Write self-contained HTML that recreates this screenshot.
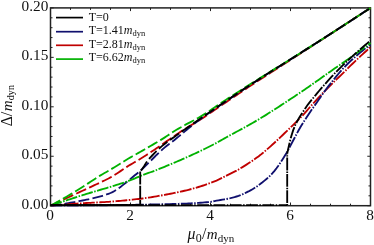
<!DOCTYPE html>
<html><head><meta charset="utf-8"><style>
html,body{margin:0;padding:0;background:#fff;}
svg{display:block;font-family:"Liberation Serif",serif;fill:#111;}
</style></head><body>
<svg width="374" height="245" viewBox="0 0 374 245">
<rect width="374" height="245" fill="#fff"/>
<defs><filter id="nf" x="0" y="0" width="374" height="245" filterUnits="userSpaceOnUse" color-interpolation-filters="sRGB"><feOffset dx="0" dy="0"/></filter><clipPath id="c"><rect x="49.50" y="6.90" width="322.00" height="199.80"/></clipPath></defs>
<rect x="50.50" y="7.90" width="320.00" height="197.80" fill="none" stroke="#222" stroke-width="1.5"/>
<path d="M50.50 205.70 v-3.20 M50.50 7.90 v3.20 M70.50 205.70 v-2.00 M70.50 7.90 v2.00 M90.50 205.70 v-2.00 M90.50 7.90 v2.00 M110.50 205.70 v-2.00 M110.50 7.90 v2.00 M130.50 205.70 v-3.20 M130.50 7.90 v3.20 M150.50 205.70 v-2.00 M150.50 7.90 v2.00 M170.50 205.70 v-2.00 M170.50 7.90 v2.00 M190.50 205.70 v-2.00 M190.50 7.90 v2.00 M210.50 205.70 v-3.20 M210.50 7.90 v3.20 M230.50 205.70 v-2.00 M230.50 7.90 v2.00 M250.50 205.70 v-2.00 M250.50 7.90 v2.00 M270.50 205.70 v-2.00 M270.50 7.90 v2.00 M290.50 205.70 v-3.20 M290.50 7.90 v3.20 M310.50 205.70 v-2.00 M310.50 7.90 v2.00 M330.50 205.70 v-2.00 M330.50 7.90 v2.00 M350.50 205.70 v-2.00 M350.50 7.90 v2.00 M370.50 205.70 v-3.20 M370.50 7.90 v3.20 M50.50 205.70 h3.20 M370.50 205.70 h-3.20 M50.50 195.81 h2.00 M370.50 195.81 h-2.00 M50.50 185.92 h2.00 M370.50 185.92 h-2.00 M50.50 176.03 h2.00 M370.50 176.03 h-2.00 M50.50 166.14 h2.00 M370.50 166.14 h-2.00 M50.50 156.25 h3.20 M370.50 156.25 h-3.20 M50.50 146.36 h2.00 M370.50 146.36 h-2.00 M50.50 136.47 h2.00 M370.50 136.47 h-2.00 M50.50 126.58 h2.00 M370.50 126.58 h-2.00 M50.50 116.69 h2.00 M370.50 116.69 h-2.00 M50.50 106.80 h3.20 M370.50 106.80 h-3.20 M50.50 96.91 h2.00 M370.50 96.91 h-2.00 M50.50 87.02 h2.00 M370.50 87.02 h-2.00 M50.50 77.13 h2.00 M370.50 77.13 h-2.00 M50.50 67.24 h2.00 M370.50 67.24 h-2.00 M50.50 57.35 h3.20 M370.50 57.35 h-3.20 M50.50 47.46 h2.00 M370.50 47.46 h-2.00 M50.50 37.57 h2.00 M370.50 37.57 h-2.00 M50.50 27.68 h2.00 M370.50 27.68 h-2.00 M50.50 17.79 h2.00 M370.50 17.79 h-2.00 M50.50 7.90 h3.20 M370.50 7.90 h-3.20" stroke="#222" stroke-width="1" fill="none"/>
<g clip-path="url(#c)">
<path d="M50.50 205.70 L52.50 204.76 L54.50 203.82 L56.50 202.89 L58.50 201.95 L60.50 201.01 L62.50 200.08 L64.50 199.14 L66.50 198.20 L68.50 197.27 L70.50 196.33 L72.50 195.40 L74.50 194.47 L76.50 193.53 L78.50 192.60 L80.50 191.67 L82.50 190.74 L84.50 189.81 L86.50 188.89 L88.50 187.97 L90.50 187.05 L92.50 186.12 L94.50 185.20 L96.50 184.26 L98.50 183.31 L100.50 182.36 L102.50 181.42 L104.50 180.47 L106.50 179.51 L108.50 178.50 L110.50 177.42 L112.50 176.27 L114.50 175.04 L116.50 173.77 L118.50 172.45 L120.50 171.11 L122.50 169.76 L124.50 168.42 L126.50 167.11 L128.50 165.83 L130.50 164.60 L132.50 163.43 L134.50 162.28 L136.50 161.15 L138.50 159.98 L140.50 158.77 L142.50 157.53 L144.50 156.26 L146.50 154.97 L148.50 153.67 L150.50 152.35 L152.50 151.01 L154.50 149.67 L156.50 148.32 L158.50 146.96 L160.50 145.57 L162.50 144.15 L164.50 142.75 L166.50 141.37 L168.50 140.00 L170.50 138.64 L172.50 137.29 L174.50 135.94 L176.50 134.58 L178.50 133.22 L180.50 131.86 L182.50 130.52 L184.50 129.22 L186.50 127.97 L188.50 126.76 L190.50 125.57 L192.50 124.37 L194.50 123.17 L196.50 121.96 L198.50 120.74 L200.50 119.48 L202.50 118.19 L204.50 116.88 L206.50 115.55 L208.50 114.20 L210.50 112.83 L212.50 111.46 L214.50 110.09 L216.50 108.71 L218.50 107.33 L220.50 105.95 L222.50 104.58 L224.50 103.22 L226.50 101.87 L228.50 100.52 L230.50 99.17 L232.50 97.82 L234.50 96.47 L236.50 95.12 L238.50 93.77 L240.50 92.43 L242.50 91.09 L244.50 89.75 L246.50 88.42 L248.50 87.09 L250.50 85.77 L252.50 84.46 L254.50 83.14 L256.50 81.84 L258.50 80.54 L260.50 79.24 L262.50 77.94 L264.50 76.65 L266.50 75.36 L268.50 74.08 L270.50 72.79 L272.50 71.51 L274.50 70.22 L276.50 68.94 L278.50 67.65 L280.50 66.37 L282.50 65.08 L284.50 63.80 L286.50 62.51 L288.50 61.22 L290.50 59.93 L292.50 58.63 L294.50 57.34 L296.50 56.04 L298.50 54.75 L300.50 53.46 L302.50 52.16 L304.50 50.87 L306.50 49.58 L308.50 48.28 L310.50 46.99 L312.50 45.69 L314.50 44.39 L316.50 43.10 L318.50 41.80 L320.50 40.50 L322.50 39.20 L324.50 37.90 L326.50 36.60 L328.50 35.30 L330.50 34.00 L332.50 32.70 L334.50 31.40 L336.50 30.10 L338.50 28.79 L340.50 27.49 L342.50 26.19 L344.50 24.88 L346.50 23.58 L348.50 22.28 L350.50 20.97 L352.50 19.67 L354.50 18.36 L356.50 17.06 L358.50 15.75 L360.50 14.44 L362.50 13.13 L364.50 11.83 L366.50 10.52 L368.50 9.21 L370.50 7.90" fill="none" stroke="#c00000" stroke-width="1.85" stroke-dasharray="10.9 3.3"/>
<path d="M50.50 205.70 L52.50 205.47 L54.50 205.23 L56.50 204.97 L58.50 204.70 L60.50 204.41 L62.50 204.11 L64.50 203.80 L66.50 203.47 L68.50 203.13 L70.50 202.78 L72.50 202.42 L74.50 202.06 L76.50 201.68 L78.50 201.29 L80.50 200.90 L82.50 200.51 L84.50 200.11 L86.50 199.70 L88.50 199.29 L90.50 198.86 L92.50 198.41 L94.50 197.94 L96.50 197.45 L98.50 196.93 L100.50 196.37 L102.50 195.78 L104.50 195.16 L106.50 194.49 L108.50 193.77 L110.50 193.00 L112.50 192.08 L114.50 190.98 L116.50 189.74 L118.50 188.37 L120.50 186.91 L122.50 185.37 L124.50 183.79 L126.50 182.18 L128.50 180.58 L130.50 179.00 L132.50 177.28 L134.50 175.57 L136.50 173.99 L138.50 172.40 L140.50 170.67 L142.50 168.76 L144.50 166.78 L146.50 164.81 L148.50 162.88 L150.50 160.96 L152.50 159.01 L154.50 156.98 L156.50 154.97 L158.50 153.05 L160.50 151.18 L162.50 149.36 L164.50 147.62 L166.50 145.98 L168.50 144.43 L170.50 142.93 L172.50 141.43 L174.50 139.90 L176.50 138.29 L178.50 136.63 L180.50 134.95 L182.50 133.26 L184.50 131.61 L186.50 129.98 L188.50 128.35 L190.50 126.73 L192.50 125.12 L194.50 123.53 L196.50 121.96 L198.50 120.43 L200.50 118.93 L202.50 117.46 L204.50 116.02 L206.50 114.60 L208.50 113.20 L210.50 111.82 L212.50 110.45 L214.50 109.09 L216.50 107.73 L218.50 106.38 L220.50 105.04 L222.50 103.68 L224.50 102.33 L226.50 100.96 L228.50 99.60 L230.50 98.24 L232.50 96.89 L234.50 95.53 L236.50 94.18 L238.50 92.84 L240.50 91.50 L242.50 90.16 L244.50 88.83 L246.50 87.51 L248.50 86.19 L250.50 84.87 L252.50 83.56 L254.50 82.26 L256.50 80.96 L258.50 79.67 L260.50 78.38 L262.50 77.10 L264.50 75.82 L266.50 74.54 L268.50 73.27 L270.50 72.00 L272.50 70.73 L274.50 69.46 L276.50 68.20 L278.50 66.94 L280.50 65.68 L282.50 64.42 L284.50 63.16 L286.50 61.90 L288.50 60.65 L290.50 59.39 L292.50 58.13 L294.50 56.88 L296.50 55.62 L298.50 54.36 L300.50 53.10 L302.50 51.84 L304.50 50.58 L306.50 49.32 L308.50 48.05 L310.50 46.79 L312.50 45.52 L314.50 44.24 L316.50 42.96 L318.50 41.68 L320.50 40.40 L322.50 39.11 L324.50 37.83 L326.50 36.54 L328.50 35.25 L330.50 33.95 L332.50 32.66 L334.50 31.37 L336.50 30.07 L338.50 28.78 L340.50 27.48 L342.50 26.18 L344.50 24.88 L346.50 23.58 L348.50 22.28 L350.50 20.98 L352.50 19.67 L354.50 18.37 L356.50 17.06 L358.50 15.76 L360.50 14.45 L362.50 13.14 L364.50 11.83 L366.50 10.52 L368.50 9.21 L370.50 7.90" fill="none" stroke="#10106e" stroke-width="1.85" stroke-dasharray="10.9 3.3"/>
<path d="M50.50 205.70 L52.50 204.61 L54.50 203.51 L56.50 202.40 L58.50 201.28 L60.50 200.15 L62.50 199.00 L64.50 197.85 L66.50 196.69 L68.50 195.51 L70.50 194.33 L72.50 193.14 L74.50 191.94 L76.50 190.73 L78.50 189.52 L80.50 188.29 L82.50 187.04 L84.50 185.76 L86.50 184.45 L88.50 183.13 L90.50 181.81 L92.50 180.48 L94.50 179.17 L96.50 177.88 L98.50 176.62 L100.50 175.40 L102.50 174.22 L104.50 173.07 L106.50 171.93 L108.50 170.78 L110.50 169.60 L112.50 168.40 L114.50 167.18 L116.50 165.95 L118.50 164.71 L120.50 163.47 L122.50 162.23 L124.50 161.00 L126.50 159.78 L128.50 158.58 L130.50 157.41 L132.50 156.26 L134.50 155.14 L136.50 154.02 L138.50 152.89 L140.50 151.74 L142.50 150.60 L144.50 149.45 L146.50 148.31 L148.50 147.16 L150.50 146.00 L152.50 144.84 L154.50 143.67 L156.50 142.49 L158.50 141.30 L160.50 140.10 L162.50 138.87 L164.50 137.62 L166.50 136.33 L168.50 134.99 L170.50 133.63 L172.50 132.29 L174.50 131.01 L176.50 129.80 L178.50 128.63 L180.50 127.50 L182.50 126.39 L184.50 125.28 L186.50 124.18 L188.50 123.11 L190.50 122.06 L192.50 121.01 L194.50 119.96 L196.50 118.88 L198.50 117.77 L200.50 116.60 L202.50 115.39 L204.50 114.14 L206.50 112.85 L208.50 111.53 L210.50 110.19 L212.50 108.83 L214.50 107.47 L216.50 106.10 L218.50 104.73 L220.50 103.37 L222.50 102.03 L224.50 100.71 L226.50 99.41 L228.50 98.12 L230.50 96.83 L232.50 95.54 L234.50 94.25 L236.50 92.97 L238.50 91.70 L240.50 90.42 L242.50 89.15 L244.50 87.88 L246.50 86.61 L248.50 85.35 L250.50 84.08 L252.50 82.83 L254.50 81.57 L256.50 80.32 L258.50 79.07 L260.50 77.83 L262.50 76.59 L264.50 75.35 L266.50 74.11 L268.50 72.87 L270.50 71.63 L272.50 70.39 L274.50 69.15 L276.50 67.90 L278.50 66.66 L280.50 65.41 L282.50 64.16 L284.50 62.91 L286.50 61.66 L288.50 60.41 L290.50 59.16 L292.50 57.92 L294.50 56.67 L296.50 55.42 L298.50 54.17 L300.50 52.92 L302.50 51.66 L304.50 50.41 L306.50 49.15 L308.50 47.90 L310.50 46.64 L312.50 45.37 L314.50 44.11 L316.50 42.84 L318.50 41.57 L320.50 40.30 L322.50 39.02 L324.50 37.75 L326.50 36.47 L328.50 35.19 L330.50 33.91 L332.50 32.62 L334.50 31.34 L336.50 30.05 L338.50 28.76 L340.50 27.47 L342.50 26.18 L344.50 24.88 L346.50 23.59 L348.50 22.29 L350.50 20.99 L352.50 19.69 L354.50 18.39 L356.50 17.08 L358.50 15.78 L360.50 14.47 L362.50 13.16 L364.50 11.85 L366.50 10.53 L368.50 9.22 L370.50 7.90" fill="none" stroke="#00b200" stroke-width="1.85" stroke-dasharray="10.9 3.3"/>
<path d="M50.50 205.70 L52.50 205.52 L54.50 205.35 L56.50 205.18 L58.50 205.01 L60.50 204.85 L62.50 204.68 L64.50 204.52 L66.50 204.37 L68.50 204.22 L70.50 204.07 L72.50 203.92 L74.50 203.78 L76.50 203.64 L78.50 203.50 L80.50 203.37 L82.50 203.24 L84.50 203.12 L86.50 203.01 L88.50 202.90 L90.50 202.80 L92.50 202.70 L94.50 202.60 L96.50 202.50 L98.50 202.39 L100.50 202.29 L102.50 202.18 L104.50 202.06 L106.50 201.94 L108.50 201.80 L110.50 201.66 L112.50 201.52 L114.50 201.36 L116.50 201.20 L118.50 201.03 L120.50 200.85 L122.50 200.67 L124.50 200.47 L126.50 200.28 L128.50 200.07 L130.50 199.86 L132.50 199.65 L134.50 199.42 L136.50 199.19 L138.50 198.96 L140.50 198.72 L142.50 198.46 L144.50 198.18 L146.50 197.90 L148.50 197.60 L150.50 197.29 L152.50 196.97 L154.50 196.64 L156.50 196.30 L158.50 195.96 L160.50 195.61 L162.50 195.26 L164.50 194.90 L166.50 194.53 L168.50 194.15 L170.50 193.76 L172.50 193.37 L174.50 192.96 L176.50 192.55 L178.50 192.12 L180.50 191.68 L182.50 191.23 L184.50 190.76 L186.50 190.28 L188.50 189.78 L190.50 189.27 L192.50 188.74 L194.50 188.18 L196.50 187.61 L198.50 187.01 L200.50 186.39 L202.50 185.75 L204.50 185.08 L206.50 184.39 L208.50 183.68 L210.50 182.94 L212.50 182.18 L214.50 181.40 L216.50 180.57 L218.50 179.67 L220.50 178.70 L222.50 177.68 L224.50 176.64 L226.50 175.59 L228.50 174.56 L230.50 173.55 L232.50 172.58 L234.50 171.60 L236.50 170.58 L238.50 169.49 L240.50 168.34 L242.50 167.14 L244.50 165.90 L246.50 164.63 L248.50 163.33 L250.50 162.02 L252.50 160.67 L254.50 159.28 L256.50 157.85 L258.50 156.38 L260.50 154.85 L262.50 153.24 L264.50 151.57 L266.50 149.86 L268.50 148.13 L270.50 146.37 L272.50 144.56 L274.50 142.74 L276.50 140.89 L278.50 139.03 L280.50 137.13 L282.50 135.21 L284.50 133.28 L286.50 131.35 L288.50 129.43 L290.50 127.51 L292.50 125.57 L294.50 123.60 L296.50 121.62 L298.50 119.64 L300.50 117.61 L302.50 115.53 L304.50 113.36 L306.50 111.09 L308.50 108.77 L310.50 106.47 L312.50 104.24 L314.50 102.05 L316.50 99.87 L318.50 97.71 L320.50 95.58 L322.50 93.46 L324.50 91.37 L326.50 89.31 L328.50 87.27 L330.50 85.27 L332.50 83.30 L334.50 81.35 L336.50 79.41 L338.50 77.48 L340.50 75.55 L342.50 73.61 L344.50 71.66 L346.50 69.70 L348.50 67.69 L350.50 65.71 L352.50 63.78 L354.50 61.86 L356.50 59.95 L358.50 58.06 L360.50 56.19 L362.50 54.34 L364.50 52.51 L366.50 50.71 L368.50 48.94 L370.50 47.20" fill="none" stroke="#c00000" stroke-width="1.85" stroke-dasharray="11.8 1.5 1.5 1.5"/>
<path d="M50.50 205.70 L52.50 205.69 L54.50 205.68 L56.50 205.67 L58.50 205.66 L60.50 205.64 L62.50 205.63 L64.50 205.62 L66.50 205.60 L68.50 205.59 L70.50 205.57 L72.50 205.56 L74.50 205.54 L76.50 205.52 L78.50 205.51 L80.50 205.49 L82.50 205.47 L84.50 205.45 L86.50 205.43 L88.50 205.41 L90.50 205.40 L92.50 205.38 L94.50 205.36 L96.50 205.34 L98.50 205.32 L100.50 205.29 L102.50 205.27 L104.50 205.25 L106.50 205.23 L108.50 205.20 L110.50 205.18 L112.50 205.15 L114.50 205.13 L116.50 205.10 L118.50 205.07 L120.50 205.04 L122.50 205.02 L124.50 204.99 L126.50 204.96 L128.50 204.92 L130.50 204.89 L132.50 204.86 L134.50 204.83 L136.50 204.79 L138.50 204.75 L140.50 204.72 L142.50 204.68 L144.50 204.64 L146.50 204.60 L148.50 204.56 L150.50 204.52 L152.50 204.47 L154.50 204.43 L156.50 204.38 L158.50 204.34 L160.50 204.29 L162.50 204.24 L164.50 204.19 L166.50 204.14 L168.50 204.10 L170.50 204.05 L172.50 203.99 L174.50 203.94 L176.50 203.88 L178.50 203.82 L180.50 203.76 L182.50 203.69 L184.50 203.62 L186.50 203.55 L188.50 203.46 L190.50 203.38 L192.50 203.28 L194.50 203.18 L196.50 203.06 L198.50 202.93 L200.50 202.78 L202.50 202.63 L204.50 202.45 L206.50 202.26 L208.50 202.05 L210.50 201.80 L212.50 201.45 L214.50 201.06 L216.50 200.67 L218.50 200.31 L220.50 199.98 L222.50 199.66 L224.50 199.34 L226.50 199.00 L228.50 198.62 L230.50 198.19 L232.50 197.69 L234.50 197.12 L236.50 196.50 L238.50 195.83 L240.50 195.11 L242.50 194.30 L244.50 193.41 L246.50 192.45 L248.50 191.44 L250.50 190.35 L252.50 189.21 L254.50 187.99 L256.50 186.71 L258.50 185.33 L260.50 183.84 L262.50 182.28 L264.50 180.64 L266.50 178.94 L268.50 177.19 L270.50 175.31 L272.50 173.22 L274.50 170.88 L276.50 168.30 L278.50 165.51 L280.50 162.56 L282.50 159.48 L284.50 156.29 L286.50 152.99 L288.50 149.40 L290.50 145.63 L292.50 141.79 L294.50 138.01 L296.50 134.22 L298.50 130.51 L300.50 127.06 L302.50 123.75 L304.50 120.55 L306.50 117.44 L308.50 114.40 L310.50 111.45 L312.50 108.60 L314.50 105.77 L316.50 102.91 L318.50 100.01 L320.50 97.12 L322.50 94.26 L324.50 91.48 L326.50 88.81 L328.50 86.18 L330.50 83.60 L332.50 81.06 L334.50 78.57 L336.50 76.13 L338.50 73.76 L340.50 71.46 L342.50 69.23 L344.50 67.07 L346.50 65.00 L348.50 63.02 L350.50 61.14 L352.50 59.30 L354.50 57.50 L356.50 55.73 L358.50 54.00 L360.50 52.31 L362.50 50.67 L364.50 49.09 L366.50 47.56 L368.50 46.10 L370.50 44.70" fill="none" stroke="#10106e" stroke-width="1.85" stroke-dasharray="11.8 1.5 1.5 1.5"/>
<path d="M50.50 205.70 L52.50 205.02 L54.50 204.34 L56.50 203.66 L58.50 202.99 L60.50 202.32 L62.50 201.66 L64.50 201.00 L66.50 200.34 L68.50 199.69 L70.50 199.04 L72.50 198.39 L74.50 197.75 L76.50 197.11 L78.50 196.47 L80.50 195.84 L82.50 195.21 L84.50 194.59 L86.50 193.97 L88.50 193.36 L90.50 192.75 L92.50 192.14 L94.50 191.54 L96.50 190.94 L98.50 190.35 L100.50 189.75 L102.50 189.17 L104.50 188.60 L106.50 188.03 L108.50 187.45 L110.50 186.85 L112.50 186.23 L114.50 185.61 L116.50 184.98 L118.50 184.35 L120.50 183.70 L122.50 183.04 L124.50 182.36 L126.50 181.67 L128.50 180.95 L130.50 180.21 L132.50 179.42 L134.50 178.57 L136.50 177.70 L138.50 176.83 L140.50 175.99 L142.50 175.18 L144.50 174.42 L146.50 173.69 L148.50 172.97 L150.50 172.25 L152.50 171.51 L154.50 170.76 L156.50 169.99 L158.50 169.20 L160.50 168.40 L162.50 167.59 L164.50 166.77 L166.50 165.95 L168.50 165.12 L170.50 164.29 L172.50 163.45 L174.50 162.60 L176.50 161.75 L178.50 160.89 L180.50 160.03 L182.50 159.16 L184.50 158.28 L186.50 157.40 L188.50 156.51 L190.50 155.60 L192.50 154.68 L194.50 153.75 L196.50 152.81 L198.50 151.86 L200.50 150.91 L202.50 149.96 L204.50 148.99 L206.50 148.02 L208.50 147.03 L210.50 146.03 L212.50 145.00 L214.50 143.95 L216.50 142.87 L218.50 141.76 L220.50 140.64 L222.50 139.51 L224.50 138.37 L226.50 137.25 L228.50 136.13 L230.50 135.03 L232.50 133.94 L234.50 132.87 L236.50 131.80 L238.50 130.73 L240.50 129.66 L242.50 128.58 L244.50 127.48 L246.50 126.36 L248.50 125.25 L250.50 124.12 L252.50 122.98 L254.50 121.84 L256.50 120.67 L258.50 119.50 L260.50 118.30 L262.50 117.08 L264.50 115.85 L266.50 114.60 L268.50 113.34 L270.50 112.07 L272.50 110.79 L274.50 109.50 L276.50 108.21 L278.50 106.91 L280.50 105.61 L282.50 104.32 L284.50 103.01 L286.50 101.70 L288.50 100.38 L290.50 99.06 L292.50 97.73 L294.50 96.40 L296.50 95.07 L298.50 93.74 L300.50 92.40 L302.50 91.05 L304.50 89.68 L306.50 88.31 L308.50 86.92 L310.50 85.52 L312.50 84.12 L314.50 82.71 L316.50 81.30 L318.50 79.88 L320.50 78.46 L322.50 77.04 L324.50 75.63 L326.50 74.21 L328.50 72.80 L330.50 71.40 L332.50 70.00 L334.50 68.61 L336.50 67.23 L338.50 65.86 L340.50 64.49 L342.50 63.12 L344.50 61.74 L346.50 60.35 L348.50 58.96 L350.50 57.55 L352.50 56.12 L354.50 54.69 L356.50 53.26 L358.50 51.82 L360.50 50.36 L362.50 48.91 L364.50 47.44 L366.50 45.97 L368.50 44.49 L370.50 43.00" fill="none" stroke="#00b200" stroke-width="1.85" stroke-dasharray="11.8 1.5 1.5 1.5"/>
<path d="M50.50 205.10 L140.20 205.10" fill="none" stroke="#000000" stroke-width="1.85" stroke-dasharray="10.9 3.3"/>
<path d="M140.20 205.10 L140.20 171.50" fill="none" stroke="#000000" stroke-width="1.85" stroke-dasharray="13 1.2" stroke-dashoffset="7.8"/>
<path d="M140.20 171.50 L142.20 168.99 L144.20 166.04 L146.20 162.64 L148.20 159.86 L150.20 157.61 L152.20 155.50 L154.20 153.38 L156.20 151.34 L158.20 149.41 L160.20 147.60 L162.20 145.88 L164.20 144.24 L166.20 142.67 L168.20 141.19 L170.20 139.77 L172.20 138.37 L174.20 136.97 L176.20 135.54 L178.20 134.12 L180.20 132.70 L182.20 131.28 L184.20 129.86 L186.20 128.45 L188.20 127.04 L190.20 125.64 L192.20 124.23 L194.20 122.83 L196.20 121.43 L198.20 120.04 L200.20 118.66 L202.20 117.28 L204.20 115.91 L206.20 114.53 L208.20 113.15 L210.20 111.78 L212.20 110.41 L214.20 109.04 L216.20 107.67 L218.20 106.31 L220.20 104.95 L222.20 103.58 L224.20 102.23 L226.20 100.87 L228.20 99.52 L230.20 98.17 L232.20 96.82 L234.20 95.48 L236.20 94.14 L238.20 92.81 L240.20 91.47 L242.20 90.14 L244.20 88.82 L246.20 87.50 L248.20 86.18 L250.20 84.87 L252.20 83.56 L254.20 82.26 L256.20 80.96 L258.20 79.67 L260.20 78.38 L262.20 77.10 L264.20 75.82 L266.20 74.54 L268.20 73.27 L270.20 72.00 L272.20 70.74 L274.20 69.47 L276.20 68.21 L278.20 66.95 L280.20 65.69 L282.20 64.44 L284.20 63.18 L286.20 61.93 L288.20 60.68 L290.20 59.42 L292.20 58.17 L294.20 56.92 L296.20 55.67 L298.20 54.41 L300.20 53.16 L302.20 51.90 L304.20 50.64 L306.20 49.38 L308.20 48.12 L310.20 46.86 L312.20 45.59 L314.20 44.32 L316.20 43.05 L318.20 41.77 L320.20 40.49 L322.20 39.21 L324.20 37.92 L326.20 36.64 L328.20 35.35 L330.20 34.07 L332.20 32.78 L334.20 31.49 L336.20 30.20 L338.20 28.90 L340.20 27.61 L342.20 26.32 L344.20 25.02 L346.20 23.72 L348.20 22.43 L350.20 21.13 L352.20 19.83 L354.20 18.53 L356.20 17.23 L358.20 15.93 L360.20 14.62 L362.20 13.32 L364.20 12.01 L366.20 10.71 L368.20 9.40 L370.20 8.10 L370.50 7.90" fill="none" stroke="#000000" stroke-width="1.85" stroke-dasharray="10.9 3.3" stroke-dashoffset="13.0"/>
<path d="M50.50 205.10 L287.20 205.10" fill="none" stroke="#000000" stroke-width="1.85" stroke-dasharray="11.8 1.5 1.5 1.5"/>
<path d="M287.20 205.10 L287.20 153.50" fill="none" stroke="#000000" stroke-width="1.85" stroke-dasharray="12.9 1 1.4 1" stroke-dashoffset="14.3"/>
<path d="M287.20 153.50 L289.20 144.35 L291.20 136.40 L293.20 130.14 L295.20 125.20 L297.20 121.30 L299.20 117.80 L301.20 114.59 L303.20 111.52 L305.20 108.47 L307.20 105.52 L309.20 102.83 L311.20 100.37 L313.20 97.98 L315.20 95.55 L317.20 93.13 L319.20 90.75 L321.20 88.41 L323.20 86.12 L325.20 83.85 L327.20 81.60 L329.20 79.37 L331.20 77.18 L333.20 75.02 L335.20 72.90 L337.20 70.82 L339.20 68.79 L341.20 66.80 L343.20 64.86 L345.20 62.96 L347.20 61.09 L349.20 59.24 L351.20 57.40 L353.20 55.58 L355.20 53.78 L357.20 51.99 L359.20 50.22 L361.20 48.47 L363.20 46.74 L365.20 45.03 L367.20 43.34 L369.20 41.67 L370.50 40.60" fill="none" stroke="#000000" stroke-width="1.85" stroke-dasharray="11.8 1.5 1.5 1.5" stroke-dashoffset="0.7"/>
<path d="M50.5 205.1 H140.2" stroke="#000" stroke-width="1.85" fill="none"/>
</g>
<g style="will-change:opacity" filter="url(#nf)">
<text x="50.10" y="219.80" font-size="15.3" text-anchor="middle">0</text>
<text x="130.10" y="219.80" font-size="15.3" text-anchor="middle">2</text>
<text x="210.10" y="219.80" font-size="15.3" text-anchor="middle">4</text>
<text x="290.10" y="219.80" font-size="15.3" text-anchor="middle">6</text>
<text x="370.10" y="219.80" font-size="15.3" text-anchor="middle">8</text>
<text x="48.40" y="208.70" font-size="15.3" text-anchor="end">0.00</text>
<text x="48.40" y="159.25" font-size="15.3" text-anchor="end">0.05</text>
<text x="48.40" y="109.80" font-size="15.3" text-anchor="end">0.10</text>
<text x="48.40" y="60.35" font-size="15.3" text-anchor="end">0.15</text>
<text x="48.40" y="10.90" font-size="15.3" text-anchor="end">0.20</text>
<text x="187.5" y="239.2" font-size="15.8"><tspan font-style="italic">μ</tspan><tspan font-size="12" dy="2.5" dx="0.3">0</tspan><tspan dy="-2.5" dx="0.3">/</tspan><tspan font-style="italic" dx="0.4" font-size="15">m</tspan><tspan font-size="11" dy="2.5" dx="0.2">dyn</tspan></text>
<text transform="translate(11.8,126.3) rotate(-90)" font-size="15.8"><tspan>Δ/</tspan><tspan font-style="italic" dx="0.4" font-size="15">m</tspan><tspan font-size="10.2" dy="2.5" dx="0.2">dyn</tspan></text>
<line x1="56" x2="83" y1="17.60" y2="17.60" stroke="#000000" stroke-width="1.7"/>
<text x="88.7" y="21.10" font-size="12">T=0</text>
<line x1="56" x2="83" y1="31.70" y2="31.70" stroke="#10106e" stroke-width="1.7"/>
<text x="88.7" y="34.30" font-size="12">T=1.41<tspan font-style="italic">m</tspan><tspan font-size="8.5" dy="2">dyn</tspan></text>
<line x1="56" x2="83" y1="45.30" y2="45.30" stroke="#c00000" stroke-width="1.7"/>
<text x="88.7" y="47.60" font-size="12">T=2.81<tspan font-style="italic">m</tspan><tspan font-size="8.5" dy="2">dyn</tspan></text>
<line x1="56" x2="83" y1="59.10" y2="59.10" stroke="#00b200" stroke-width="1.7"/>
<text x="88.7" y="61.20" font-size="12">T=6.62<tspan font-style="italic">m</tspan><tspan font-size="8.5" dy="2">dyn</tspan></text>
</g>
</svg>
</body></html>
